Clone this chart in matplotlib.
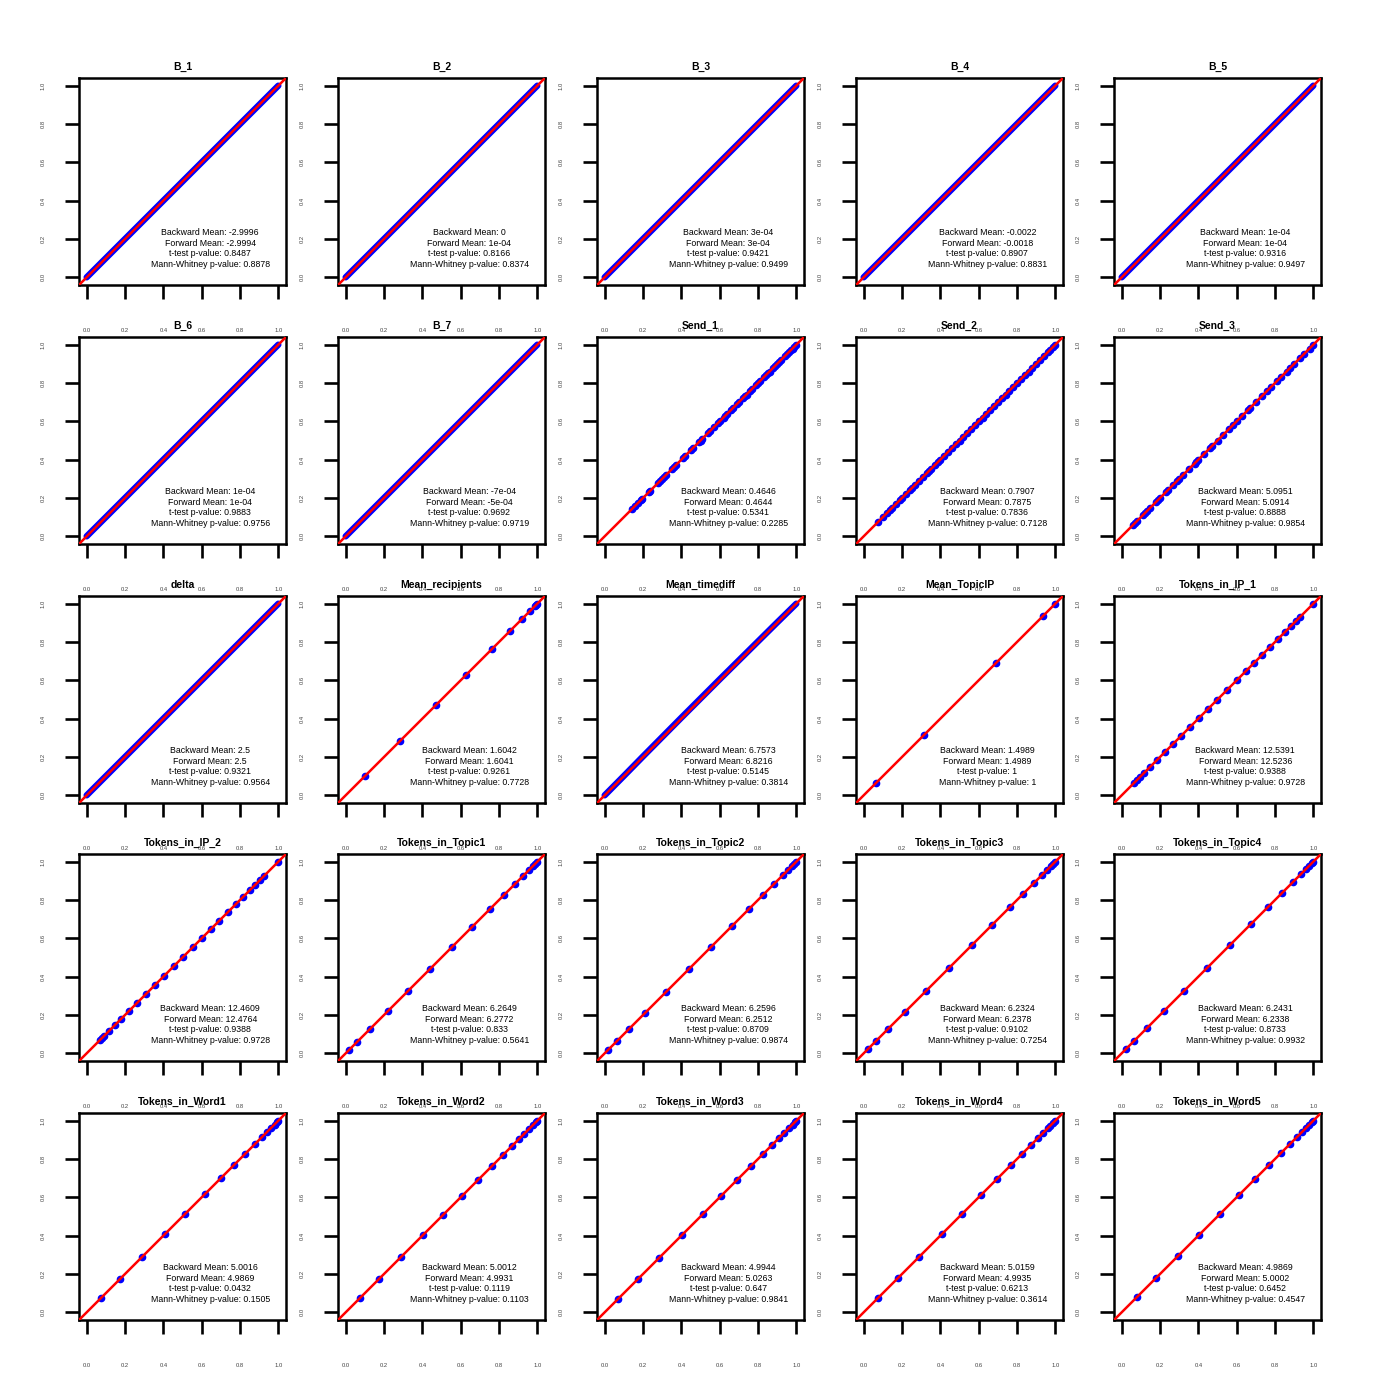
import matplotlib
matplotlib.use("Agg")
import matplotlib.pyplot as plt

plt.rcParams['font.family'] = ['Liberation Sans', 'DejaVu Sans']

# panel titles, row by row
titles = ["B_1", "B_2", "B_3", "B_4", "B_5",
          "B_6", "B_7", "Send_1", "Send_2", "Send_3",
          "delta", "Mean_recipients", "Mean_timediff", "Mean_TopicIP", "Tokens_in_IP_1",
          "Tokens_in_IP_2", "Tokens_in_Topic1", "Tokens_in_Topic2", "Tokens_in_Topic3", "Tokens_in_Topic4",
          "Tokens_in_Word1", "Tokens_in_Word2", "Tokens_in_Word3", "Tokens_in_Word4", "Tokens_in_Word5"]

backward_mean = ["-2.9996", "0", "3e-04", "-0.0022", "1e-04",
                 "1e-04", "-7e-04", "0.4646", "0.7907", "5.0951",
                 "2.5", "1.6042", "6.7573", "1.4989", "12.5391",
                 "12.4609", "6.2649", "6.2596", "6.2324", "6.2431",
                 "5.0016", "5.0012", "4.9944", "5.0159", "4.9869"]
forward_mean = ["-2.9994", "1e-04", "3e-04", "-0.0018", "1e-04",
                "1e-04", "-5e-04", "0.4644", "0.7875", "5.0914",
                "2.5", "1.6041", "6.8216", "1.4989", "12.5236",
                "12.4764", "6.2772", "6.2512", "6.2378", "6.2338",
                "4.9869", "4.9931", "5.0263", "4.9935", "5.0002"]
ttest_p = ["0.8487", "0.8166", "0.9421", "0.8907", "0.9316",
           "0.9883", "0.9692", "0.5341", "0.7836", "0.8888",
           "0.9321", "0.9261", "0.5145", "1", "0.9388",
           "0.9388", "0.833", "0.8709", "0.9102", "0.8733",
           "0.0432", "0.1119", "0.647", "0.6213", "0.6452"]
mw_p = ["0.8878", "0.8374", "0.9499", "0.8831", "0.9497",
        "0.9756", "0.9719", "0.2285", "0.7128", "0.9854",
        "0.9564", "0.7728", "0.3814", "1", "0.9728",
        "0.9728", "0.5641", "0.9874", "0.7254", "0.9932",
        "0.1505", "0.1103", "0.9841", "0.3614", "0.4547"]

# dense panels (continuous band of points)
dense_x = [0.0, 0.25, 0.5, 0.75, 1.0]
dense_y = [0.0, 0.25, 0.5, 0.75, 1.0]
timediff_x = [0.0, 0.1, 0.2, 0.3, 0.4, 0.5, 0.6, 0.7, 0.8, 0.9, 1.0]
timediff_y = [0.0, 0.101, 0.203, 0.304, 0.405, 0.505, 0.605, 0.704, 0.803, 0.902, 1.0]

# sparse panels: PP points (forward vs backward probabilities)
send_1 = [0.145, 0.16, 0.175, 0.19, 0.195, 0.23, 0.235, 0.28, 0.29, 0.30, 0.31, 0.32,
          0.35, 0.36, 0.37, 0.41, 0.42, 0.45, 0.46, 0.49, 0.50, 0.51, 0.54, 0.55, 0.57,
          0.59, 0.60, 0.62, 0.63, 0.64, 0.66, 0.67, 0.69, 0.70, 0.72, 0.73, 0.74, 0.76,
          0.77, 0.79, 0.80, 0.81, 0.83, 0.84, 0.85, 0.86, 0.88, 0.89, 0.90, 0.91, 0.92,
          0.94, 0.95, 0.96, 0.97, 0.98, 0.99, 1.0]
send_2 = [0.077, 0.10, 0.12, 0.135, 0.15, 0.17, 0.19, 0.20, 0.22, 0.24, 0.25, 0.27,
          0.29, 0.31, 0.33, 0.34, 0.35, 0.37, 0.39, 0.40, 0.42, 0.44, 0.46, 0.48, 0.50,
          0.52, 0.54, 0.56, 0.58, 0.60, 0.62, 0.64, 0.66, 0.68, 0.70, 0.72, 0.74, 0.76,
          0.78, 0.80, 0.82, 0.84, 0.86, 0.88, 0.90, 0.92, 0.94, 0.96, 0.97, 0.99, 1.0]
send_3 = [0.06, 0.07, 0.08, 0.11, 0.12, 0.13, 0.15, 0.18, 0.19, 0.20, 0.23, 0.24, 0.27,
          0.29, 0.30, 0.32, 0.35, 0.38, 0.39, 0.40, 0.43, 0.46, 0.47, 0.50, 0.53, 0.56,
          0.58, 0.60, 0.63, 0.66, 0.67, 0.70, 0.73, 0.76, 0.78, 0.81, 0.83, 0.86, 0.88,
          0.90, 0.93, 0.95, 0.98, 1.0]
mean_recipients = [0.101, 0.283, 0.470, 0.630, 0.763, 0.857, 0.922, 0.962, 0.986, 0.995, 1.0]
mean_topicip = [0.065, 0.315, 0.688, 0.938, 1.0]
tokens_ip_1 = [0.064, 0.08, 0.098, 0.119, 0.148, 0.185, 0.227, 0.268, 0.307, 0.354, 0.401,
               0.451, 0.499, 0.550, 0.600, 0.647, 0.689, 0.733, 0.776, 0.816, 0.853, 0.885,
               0.910, 0.933, 1.0]
tokens_ip_2 = [0.067, 0.079, 0.091, 0.116, 0.148, 0.180, 0.222, 0.264, 0.309, 0.358, 0.405,
               0.454, 0.504, 0.553, 0.600, 0.647, 0.691, 0.736, 0.778, 0.817, 0.852, 0.879,
               0.906, 0.926, 1.0]
tokens_topic1 = [0.016, 0.06, 0.125, 0.219, 0.324, 0.442, 0.556, 0.66, 0.755, 0.826, 0.886,
                 0.926, 0.956, 0.975, 0.989, 1.0]
tokens_topic2 = [0.017, 0.062, 0.126, 0.210, 0.319, 0.440, 0.556, 0.664, 0.753, 0.825, 0.886,
                 0.928, 0.956, 0.975, 0.990, 1.0]
tokens_topic3 = [0.021, 0.064, 0.127, 0.217, 0.325, 0.443, 0.565, 0.670, 0.762, 0.833, 0.889,
                 0.930, 0.958, 0.976, 0.988, 1.0]
tokens_topic4 = [0.023, 0.066, 0.130, 0.219, 0.327, 0.445, 0.565, 0.673, 0.763, 0.835, 0.892,
                 0.934, 0.960, 0.977, 0.991, 1.0]
tokens_word1 = [0.074, 0.175, 0.291, 0.407, 0.514, 0.615, 0.699, 0.768, 0.827, 0.877, 0.914,
                0.941, 0.963, 0.980, 0.993, 1.0]
tokens_word2 = [0.074, 0.173, 0.289, 0.402, 0.509, 0.605, 0.691, 0.765, 0.822, 0.869, 0.906,
                0.933, 0.956, 0.975, 0.993, 1.0]
tokens_word3 = [0.072, 0.173, 0.286, 0.402, 0.511, 0.605, 0.691, 0.763, 0.825, 0.874, 0.911,
                0.938, 0.960, 0.980, 0.993, 1.0]
tokens_word4 = [0.075, 0.178, 0.290, 0.409, 0.513, 0.612, 0.697, 0.769, 0.824, 0.871, 0.910,
                0.936, 0.960, 0.974, 0.986, 1.0]
tokens_word5 = [0.080, 0.181, 0.296, 0.405, 0.515, 0.614, 0.697, 0.770, 0.830, 0.877, 0.913,
                0.941, 0.963, 0.979, 0.991, 1.0]

sparse = {"Send_1": send_1, "Send_2": send_2, "Send_3": send_3,
          "Mean_recipients": mean_recipients, "Mean_TopicIP": mean_topicip,
          "Tokens_in_IP_1": tokens_ip_1, "Tokens_in_IP_2": tokens_ip_2,
          "Tokens_in_Topic1": tokens_topic1, "Tokens_in_Topic2": tokens_topic2,
          "Tokens_in_Topic3": tokens_topic3, "Tokens_in_Topic4": tokens_topic4,
          "Tokens_in_Word1": tokens_word1, "Tokens_in_Word2": tokens_word2,
          "Tokens_in_Word3": tokens_word3, "Tokens_in_Word4": tokens_word4,
          "Tokens_in_Word5": tokens_word5}

ticks = [0.0, 0.2, 0.4, 0.6, 0.8, 1.0]
tick_labels = ["0.0", "0.2", "0.4", "0.6", "0.8", "1.0"]

fig = plt.figure(figsize=(14, 14), dpi=100)
W = 1400.0
box = 207.0
lefts = [79, 338, 597, 856, 1114]
tops = [78, 337, 596, 854, 1113]

for i, name in enumerate(titles):
    r, c = divmod(i, 5)
    ax = fig.add_axes([lefts[c] / W, 1 - (tops[r] + box) / W, box / W, box / W])

    if name in sparse:
        p = sparse[name]
        ax.plot(p, p, 'o', color='blue', ms=4.5, zorder=2)
    elif name == "Mean_timediff":
        ax.plot(timediff_x, timediff_y, '-', color='blue', lw=4.6,
                solid_capstyle='round', zorder=2)
    else:
        ax.plot(dense_x, dense_y, '-', color='blue', lw=4.6,
                solid_capstyle='round', zorder=2)

    # reference line y = x
    ax.axline((0, 0), slope=1, color='red', lw=1.8, zorder=3)

    ax.set_xlim(-0.04, 1.04)
    ax.set_ylim(-0.04, 1.04)
    ax.set_xticks(ticks)
    ax.set_xticklabels(tick_labels)
    ax.set_yticks(ticks)
    ax.set_yticklabels(tick_labels, rotation=90, va='center')
    ax.tick_params(axis='both', length=10, width=1.9, labelsize=4.2, labelcolor='#444444')
    ax.tick_params(axis='x', pad=21)
    ax.tick_params(axis='y', pad=14)
    for s in ax.spines.values():
        s.set_linewidth(1.8)

    ax.set_title(name, fontsize=7.5, fontweight='bold', pad=5.5)

    txt = ("Backward Mean: " + backward_mean[i] + "\n"
           "Forward Mean: " + forward_mean[i] + "\n"
           "t-test p-value: " + ttest_p[i] + "\n"
           "Mann-Whitney p-value: " + mw_p[i])
    ax.text(0.645, 0.15, txt, ha='center', va='center', fontsize=6.3,
            linespacing=1.2, zorder=4)

fig.savefig("out.png", dpi=100, facecolor='white')
